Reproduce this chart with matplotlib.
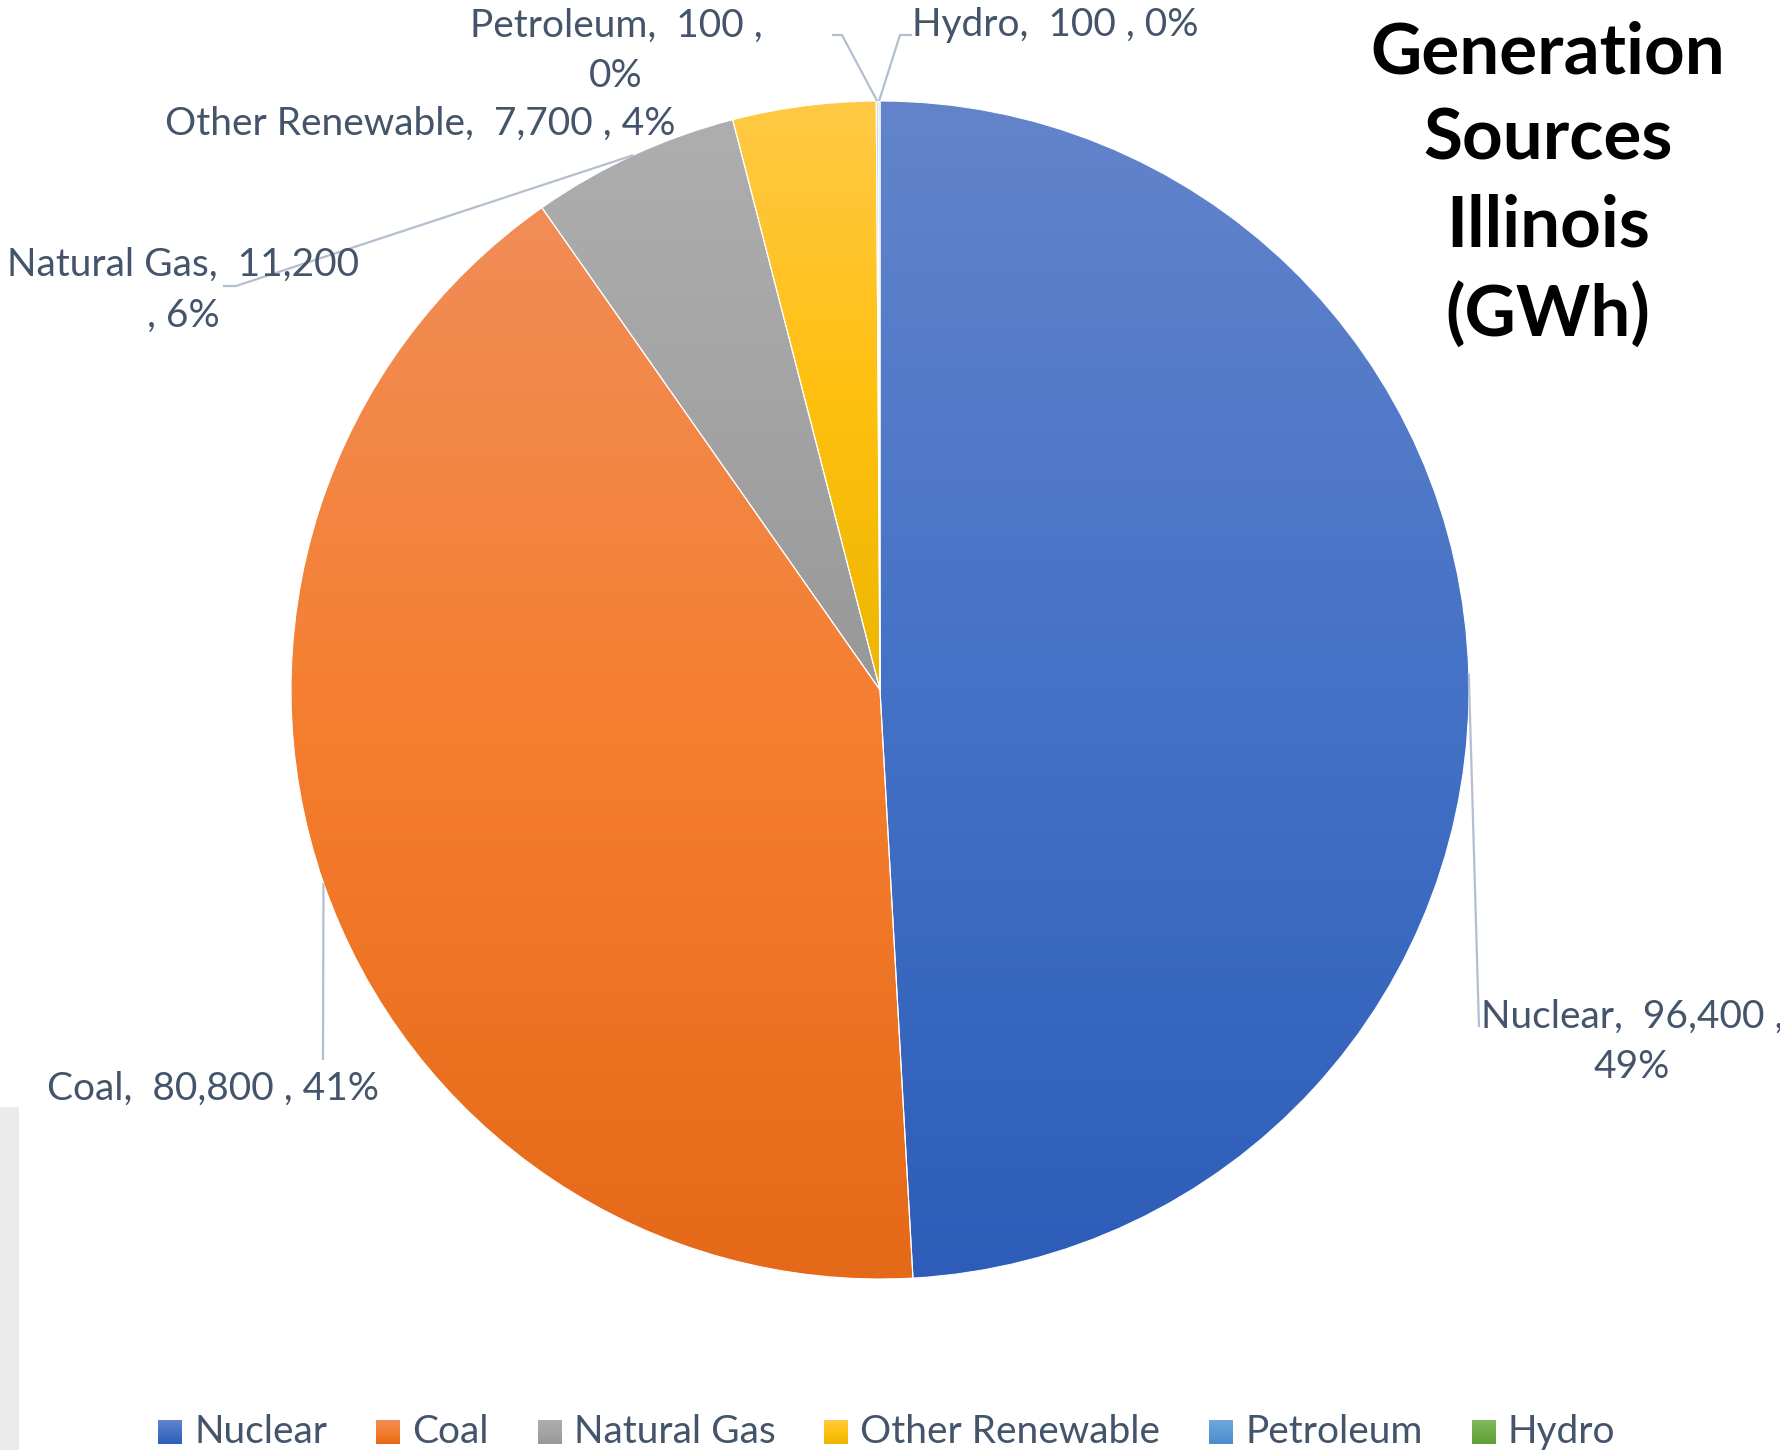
import matplotlib
matplotlib.use('Agg')
import matplotlib.pyplot as plt
import numpy as np
from matplotlib.colors import to_rgb
from matplotlib.patches import Rectangle

plt.rcParams['font.family'] = ['Lato', 'DejaVu Sans']

# Illinois generation by source (GWh)
sources = ['Nuclear', 'Coal', 'Natural Gas', 'Other Renewable', 'Petroleum', 'Hydro']
gwh = [96400, 80800, 11200, 7700, 100, 100]

# top / middle / bottom colour of each slice's gradient fill
shades = [('#6384CB', '#4472C6', '#2D5DB8'),
          ('#F18D57', '#F57E2E', '#E46918'),
          ('#AEAEAE', '#A4A4A4', '#989898'),
          ('#FFC945', '#FFC010', '#EDB600'),
          ('#6FA8DC', '#5B9BD5', '#4A8BCB'),
          ('#82B95F', '#70AD47', '#5E9E36')]

W, H = 1780, 1450
TXT = '#44546A'
LEAD = '#B3BFD0'

fig = plt.figure(figsize=(W / 100, H / 100), dpi=100)
ax = fig.add_axes([0, 0, 1, 1])


def top(y):
    # pixel rows are counted from the top of the figure
    return H - y


def gradient(x0, x1, y0, y1, stops, clip=None, z=1):
    t = np.linspace(0, 1, 256)
    cols = np.array([to_rgb(c) for c in stops])
    pos = np.linspace(0, 1, len(stops))
    rgb = np.stack([np.interp(t, pos, cols[:, k]) for k in range(3)], axis=1)
    im = ax.imshow(rgb[:, None, :], extent=(x0, x1, y0, y1), origin='upper',
                   aspect='auto', interpolation='bilinear', zorder=z)
    if clip is not None:
        im.set_clip_path(clip)
    return im


cx, cy, r = 880, top(690), 589
wedges, _ = ax.pie(gwh, startangle=90, counterclock=False, center=(cx, cy),
                   radius=r, colors=[s[1] for s in shades],
                   wedgeprops=dict(edgecolor='white', linewidth=0.8))

for w, stops in zip(wedges, shades):
    x0, y0, x1, y1 = w.get_path().get_extents().extents
    gradient(x0, x1, y0, y1, stops, clip=w, z=1)
    w.set_facecolor('none')
    w.set_zorder(2)

ax.set_xlim(0, W)
ax.set_ylim(0, H)
ax.axis('off')

# data labels: "name,  value , pct%" with a few wrapped onto two lines
total = sum(gwh)
pct = [round(100 * v / total) for v in gwh]
breaks = {0: ' ,\n', 2: '\n, ', 4: ' ,\n'}
labels = [f'{s},  {v:,}{breaks.get(i, " , ")}{p}%'
          for i, (s, v, p) in enumerate(zip(sources, gwh, pct))]

label_xy = [(1632, 1042), (213, 1089), (183, 290), (420, 124), (616, 51), (1055, 25)]
# leader line bend points, from the slice edge out to the label
leaders = [[(1479, 1027)], [(323, 1060)], [(236, 286), (223, 286)], None,
           [(842, 35), (832, 35)], [(900, 35), (912, 35)]]

for w, lab, (lx, ly), pts in zip(wedges, labels, label_xy, leaders):
    ax.text(lx, top(ly), lab, ha='center', va='center', fontsize=28,
            color=TXT, linespacing=1.5, zorder=4)
    if pts is None:
        continue
    mid = np.deg2rad((w.theta1 + w.theta2) / 2)
    xs = [cx + r * np.cos(mid)] + [p[0] for p in pts]
    ys = [cy + r * np.sin(mid)] + [top(p[1]) for p in pts]
    ax.plot(xs, ys, color=LEAD, lw=1.6, zorder=3, solid_capstyle='butt')

# title block
ax.text(1548, top(184), 'Generation\nSources\nIllinois\n(GWh)', ha='center',
        va='center', fontsize=51, fontweight='bold', color='black', linespacing=1.41)

# legend along the bottom
fig.canvas.draw()
rend = fig.canvas.get_renderer()
x = 158
for s, stops in zip(sources, shades):
    gradient(x, x + 24, top(1444), top(1420), stops, z=3)
    t = ax.text(x + 36, top(1443), s, ha='left', va='baseline', fontsize=28, color=TXT)
    bb = t.get_window_extent(rend)
    x = bb.x1 + 49

# grey strip on the left edge
ax.add_patch(Rectangle((0, 0), 19, top(1107), color='#EBEBEB', lw=0, zorder=0))

ax.set_xlim(0, W)
ax.set_ylim(0, H)

fig.savefig('out.png', dpi=100, facecolor='white')
